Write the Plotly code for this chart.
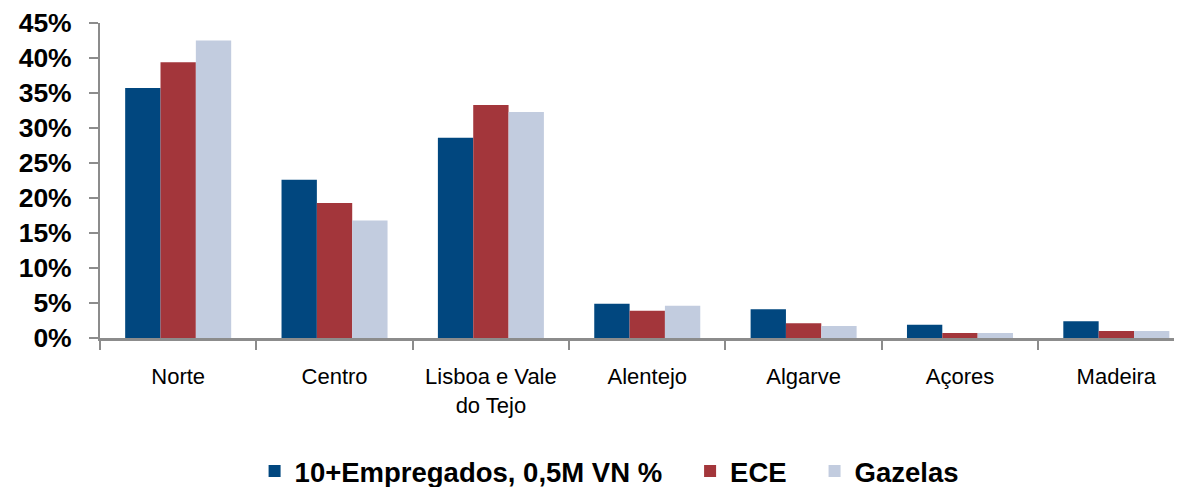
import plotly.graph_objects as go

categories = ["Norte", "Centro", "Lisboa e Vale<br>do Tejo", "Alentejo", "Algarve", "Açores", "Madeira"]
series_names = ["10+Empregados, 0,5M VN %", "ECE", "Gazelas"]
empregados = [0.357, 0.226, 0.286, 0.049, 0.041, 0.019, 0.024]
ece = [0.394, 0.193, 0.333, 0.039, 0.021, 0.007, 0.010]
gazelas = [0.425, 0.168, 0.323, 0.046, 0.017, 0.007, 0.010]
colors = ["#01477F", "#A3363B", "#C2CCDF"]

fig = go.Figure()
for i, (name, vals, col) in enumerate(zip(series_names, [empregados, ece, gazelas], colors)):
    label = name + ("\u00a0\u00a0\u00a0" if i < 2 else "")
    fig.add_trace(go.Bar(x=categories, y=vals, name=label, marker=dict(color=col, line=dict(width=0))))

font_family = "Liberation Sans, Arial, sans-serif"
fig.update_layout(
    width=1174, height=479,
    margin=dict(l=92, r=0, t=15, b=148.5, autoexpand=False),
    paper_bgcolor="white", plot_bgcolor="white",
    barmode="group", bargap=0.322, bargroupgap=0,
    font=dict(family=font_family, color="black"),
    showlegend=True,
    legend=dict(orientation="h", xref="container", yref="container",
                x=0.512, y=0.033, xanchor="center", yanchor="middle",
                font=dict(size=27.5, family=font_family, weight="bold"),
                itemwidth=30, tracegroupgap=0),
)
fig.update_xaxes(
    type="category", range=[-0.5, 6.42], automargin=False,
    showline=True, linecolor="#8C8C8C", linewidth=3,
    ticks="outside", tickson="boundaries", ticklen=9, tickwidth=2, tickcolor="#8C8C8C",
    tickfont=dict(size=22, color="black"), showgrid=False, zeroline=False,
    ticklabelstandoff=17,
)
fig.update_yaxes(
    range=[0, 0.45], dtick=0.05, tickformat=".0%", automargin=False,
    showline=True, linecolor="#8C8C8C", linewidth=2,
    ticks="outside", ticklen=9, tickwidth=2, tickcolor="#8C8C8C",
    tickfont=dict(size=26.5, color="black", weight="bold"), showgrid=False, zeroline=False,
    ticklabelstandoff=12,
)

fig.write_html("out.html")
